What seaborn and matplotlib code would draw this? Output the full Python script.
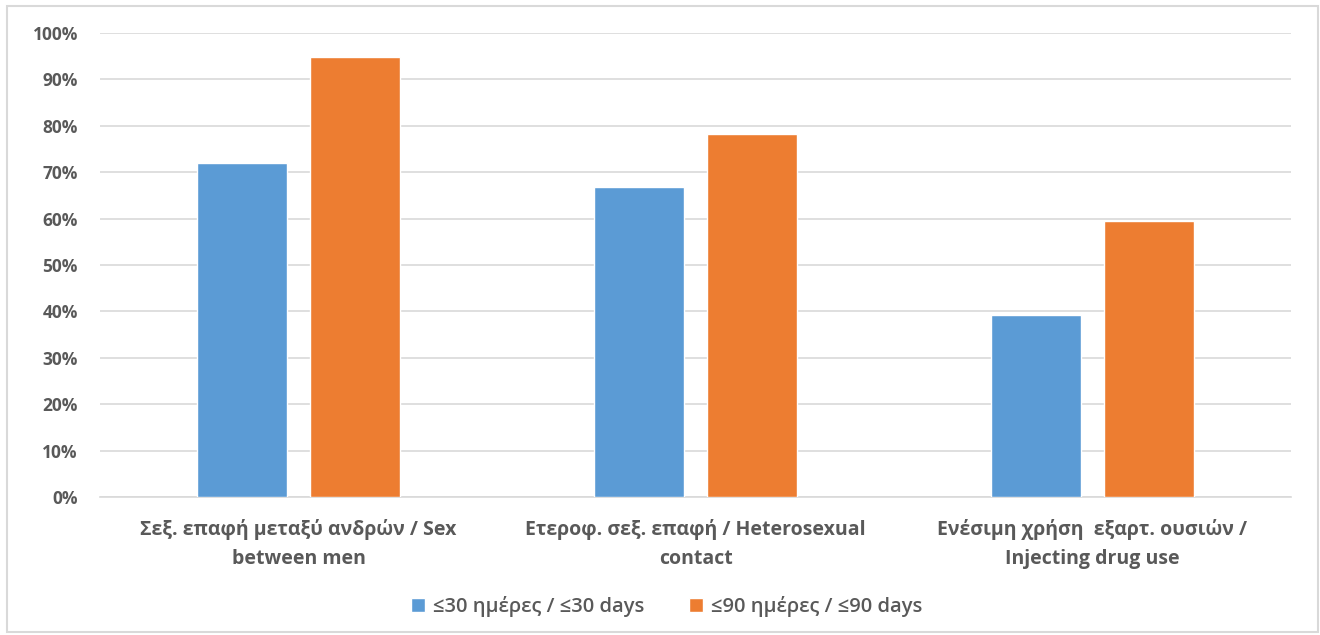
import seaborn as sns
import pandas as pd
import matplotlib.pyplot as plt
from matplotlib.patches import Rectangle
from matplotlib.ticker import PercentFormatter

# Data
categories = [
    "Σεξ. επαφή μεταξύ ανδρών / Sex\nbetween men",
    "Ετεροφ. σεξ. επαφή / Heterosexual\ncontact",
    "Ενέσιμη χρήση  εξαρτ. ουσιών /\nInjecting drug use",
]
series_names = ["≤30 ημέρες / ≤30 days", "≤90 ημέρες / ≤90 days"]
values_30 = [0.72, 0.669, 0.392]
values_90 = [0.949, 0.782, 0.594]
y_ticks = [0, 0.1, 0.2, 0.3, 0.4, 0.5, 0.6, 0.7, 0.8, 0.9, 1.0]

df = pd.DataFrame({
    "Category": categories * 2,
    "Series": [series_names[0]] * 3 + [series_names[1]] * 3,
    "Value": values_30 + values_90,
})

sns.set_style("white")
plt.rcParams["font.family"] = ["Open Sans", "Noto Sans", "DejaVu Sans"]
text_color = "#595959"
grid_color = "#d9d9d9"

fig = plt.figure(figsize=(13.2, 6.35), dpi=100)
ax = fig.add_axes([0.0758, 0.2173, 0.9022, 0.7307])

sns.barplot(data=df, x="Category", y="Value", hue="Series",
            palette=["#5B9BD5", "#ED7D31"], width=0.569, gap=0.21,
            saturation=1, ax=ax, zorder=3)

ax.set_ylim(0, 1.0)
ax.set_yticks(y_ticks)
ax.yaxis.set_major_formatter(PercentFormatter(1.0, decimals=0))
ax.grid(axis="y", color=grid_color, linewidth=1.2, zorder=0)
ax.set_axisbelow(True)
ax.set_xlabel("")
ax.set_ylabel("")
for side in ["top", "right", "left"]:
    ax.spines[side].set_visible(False)
ax.spines["bottom"].set_color(grid_color)
ax.spines["bottom"].set_linewidth(1.2)
ax.tick_params(axis="both", length=0, colors=text_color)
ax.tick_params(axis="y", pad=16, labelsize=12.5)
ax.tick_params(axis="x", pad=16, labelsize=14)
for lbl in ax.get_yticklabels():
    lbl.set_fontweight("bold")
for lbl in ax.get_xticklabels():
    lbl.set_fontweight("bold")
    lbl.set_linespacing(1.6)

leg = ax.legend(loc="center", bbox_to_anchor=(0.476, -0.237), ncol=2,
                frameon=False, fontsize=14.5, handlelength=0.7,
                handleheight=0.7, handletextpad=0.4, columnspacing=2.2)
for t in leg.get_texts():
    t.set_color(text_color)
    t.set_fontweight("semibold")

# outer chart border
fig.patches.append(Rectangle((7 / 1320, 3 / 635), 1311 / 1320, 626 / 635,
                             transform=fig.transFigure, fill=False,
                             edgecolor=grid_color, linewidth=1.5))

plt.savefig("out.png", dpi=100)
